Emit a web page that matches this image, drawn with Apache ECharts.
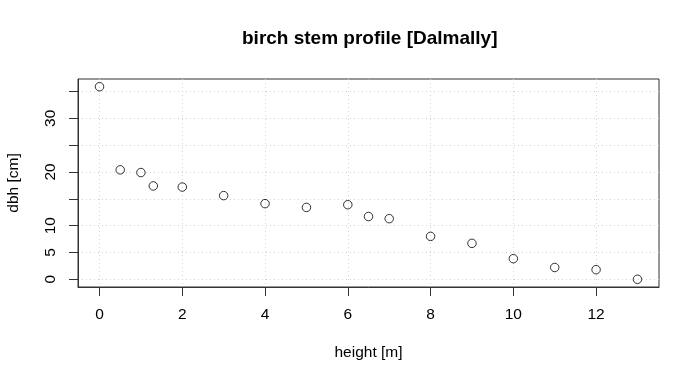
<!DOCTYPE html>
<html>
<head>
<meta charset="utf-8">
<script src="https://cdn.jsdelivr.net/npm/echarts@6/dist/echarts.min.js"></script>
<style>
html,body{margin:0;padding:0;background:#fff;}
#c{width:700px;height:385px;}
</style>
</head>
<body>
<div id="c"></div>
<script>
const heights = [0, 0.5, 1, 1.3, 2, 3, 4, 5, 6, 6.5, 7, 8, 9, 10, 11, 12, 13];
const dbh = [35.9, 20.4, 19.9, 17.4, 17.2, 15.6, 14.1, 13.4, 13.9, 11.7, 11.3, 8.0, 6.7, 3.85, 2.2, 1.8, 0.0];
const xTicks = [0, 2, 4, 6, 8, 10, 12];
const yTicks = [0, 5, 10, 15, 20, 25, 30, 35];
const yLabels = [0, 5, 10, 20, 30];
const titleText = 'birch stem profile [Dalmally]';
const xTitle = 'height [m]';
const yTitle = 'dbh [cm]';

const xMin = Math.min(...heights), xMax = Math.max(...heights);
const yMin = Math.min(...dbh), yMax = Math.max(...dbh);
const xPad = (xMax - xMin) * 0.04, yPad = (yMax - yMin) * 0.04;

const font = 'Liberation Sans, Arial, Helvetica, sans-serif';
const chart = echarts.init(document.getElementById('c'), null, {renderer: 'canvas'});
chart.setOption({
  animation: false,
  backgroundColor: '#fff',
  title: {
    text: titleText,
    left: 242, top: 29, padding: 0,
    textStyle: {fontFamily: font, fontSize: 19, fontWeight: 'bold', color: '#000'}
  },
  grid: {left: 78, right: 41, top: 79, bottom: 98, show: true, outerBoundsMode: 'none', containLabel: false, borderColor: '#333', borderWidth: 1, backgroundColor: 'transparent'},
  xAxis: {
    type: 'value', min: xMin - xPad, max: xMax + xPad,
    name: xTitle, nameLocation: 'middle', nameGap: 58,
    nameTextStyle: {fontFamily: font, fontSize: 15.5, color: '#000'},
    axisLine: {show: true, onZero: false, lineStyle: {color: '#333', width: 1}},
    axisTick: {show: true, length: 9, customValues: xTicks, lineStyle: {color: '#333'}},
    axisLabel: {customValues: xTicks, margin: 20, fontFamily: font, fontSize: 15.5, color: '#000'},
    splitLine: {show: true, lineStyle: {color: '#d3d3d3', type: [1, 3], width: 1}}
  },
  yAxis: {
    type: 'value', min: yMin - yPad, max: yMax + yPad,
    name: yTitle, nameLocation: 'middle', nameGap: 56, nameRotate: 90,
    nameTextStyle: {fontFamily: font, fontSize: 15.5, color: '#000'},
    axisLine: {show: true, onZero: false, lineStyle: {color: '#333', width: 1}},
    axisTick: {show: true, length: 9, customValues: yTicks, lineStyle: {color: '#333'}},
    axisLabel: {customValues: yLabels, rotate: 90, margin: 19, fontFamily: font, fontSize: 15.5, color: '#000'},
    splitLine: {show: true, lineStyle: {color: '#d3d3d3', type: [1, 3], width: 1}}
  },
  series: [{
    type: 'scatter',
    data: heights.map((h, i) => [h, dbh[i]]),
    symbol: 'circle', symbolSize: 8.5,
    itemStyle: {color: 'transparent', borderColor: '#000', borderWidth: 1}
  }]
});
</script>
</body>
</html>
